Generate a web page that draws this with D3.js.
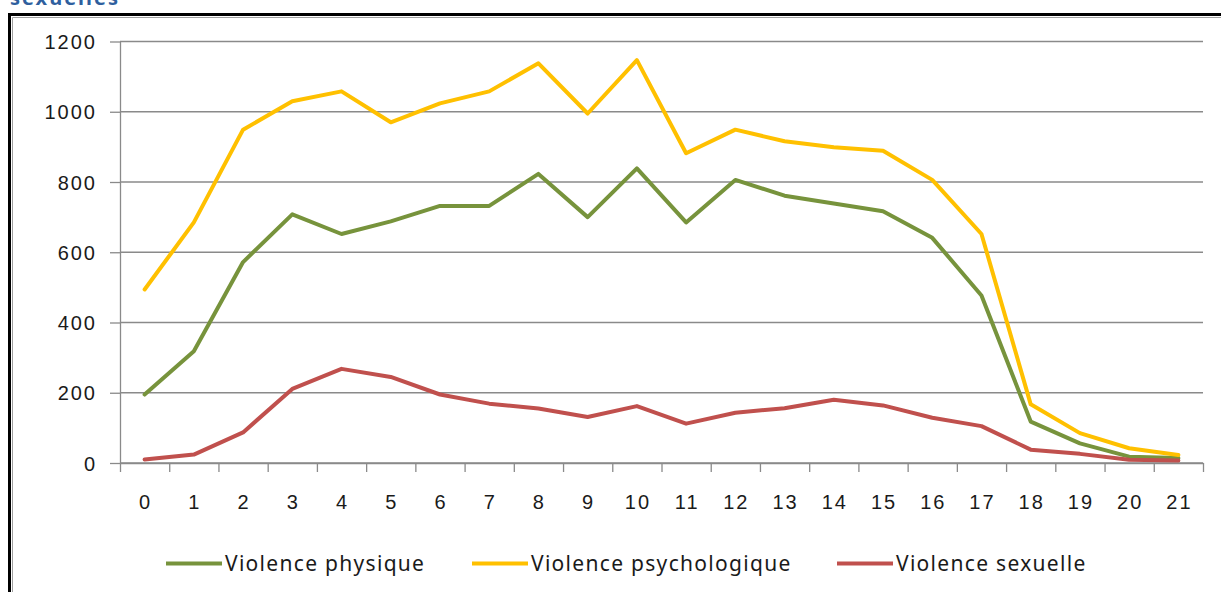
<!DOCTYPE html>
<html lang="fr">

<head>
    <meta charset="UTF-8">
    <title>Violences</title>
    <style>
        body {
            margin: 0;
            background-color: white;
        }

        svg {
            display: block;
            font-family: 'Noto Sans', 'Open Sans', sans-serif;
        }

        .axis path,
        .axis line {
            stroke: #8a8a8a;
            stroke-width: 1.3;
        }

        .axis text {
            fill: #1a1a1a;
            font-size: 20px;
            letter-spacing: 2px;
        }
    </style>
</head>

<body>
    <script src="https://d3js.org/d3.v7.min.js"></script>
    <script>
        {
            // categories 0..21
            let categories = ['0', '1', '2', '3', '4', '5', '6', '7', '8', '9', '10',
                '11', '12', '13', '14', '15', '16', '17', '18', '19', '20', '21'];

            let physique = [195, 318, 572, 708, 652, 688, 732, 732, 823, 700, 839,
                685, 806, 761, 739, 717, 641, 477, 118, 56, 18, 14];
            let psychologique = [494, 685, 949, 1030, 1058, 970, 1024, 1058, 1138, 995, 1147,
                882, 949, 916, 899, 889, 806, 652, 167, 85, 42, 23];
            let sexuelle = [10, 24, 87, 211, 268, 245, 195, 169, 155, 131, 162,
                112, 143, 156, 180, 164, 129, 105, 38, 26, 9, 7];

            let yTicks = [0, 200, 400, 600, 800, 1000, 1200];

            let seriesNames = ['Violence physique', 'Violence psychologique', 'Violence sexuelle'];
            let seriesColors = ['#77933c', '#ffc000', '#c0504d'];
            let seriesValues = [physique, psychologique, sexuelle];

            let W = 1221, H = 592;
            let left = 120, right = 1203, top = 41.5, bottom = 463;

            let svg = d3.select('body')
                .append('svg')
                .attr('width', W)
                .attr('height', H);

            // heading cut off at the top of the page
            svg.append('text')
                .attr('x', 10)
                .attr('y', 5)
                .attr('fill', '#2f5f9e')
                .attr('font-weight', 'bold')
                .attr('font-size', '20px')
                .attr('letter-spacing', '2px')
                .text('sexuelles');

            // chart frame
            svg.append('path')
                .attr('d', `M9.5,${H} V14.5 H${W}`)
                .attr('fill', 'none')
                .attr('stroke', '#000')
                .attr('stroke-width', 3);
            svg.append('path')
                .attr('d', `M12.5,${H} V17.5 H${W}`)
                .attr('fill', 'none')
                .attr('stroke', '#a0a0a0')
                .attr('stroke-width', 1);

            let x = d3.scaleBand().domain(categories).range([left, right]);
            let xEdge = d3.scaleLinear().domain([0, categories.length]).range([left, right]);
            let y = d3.scaleLinear().domain([0, 1200]).range([bottom, top]);

            // gridlines
            svg.append('g')
                .selectAll('line')
                .data(yTicks)
                .enter()
                .append('line')
                .attr('x1', left)
                .attr('x2', right)
                .attr('y1', d => y(d))
                .attr('y2', d => y(d))
                .attr('stroke', '#8a8a8a')
                .attr('stroke-width', 1.3);

            // y axis
            svg.append('g')
                .attr('class', 'axis')
                .attr('transform', `translate(${left},0)`)
                .call(d3.axisLeft(y).tickValues(yTicks).tickFormat(d3.format('d'))
                    .tickSize(10).tickPadding(13).tickSizeOuter(0))
                .selectAll('text')
                .attr('dy', '0.35em');

            // x axis: tick marks between categories
            svg.append('g')
                .attr('class', 'axis')
                .attr('transform', `translate(0,${bottom})`)
                .call(d3.axisBottom(xEdge).tickValues(d3.range(categories.length + 1))
                    .tickSize(9).tickFormat('').tickSizeOuter(0));

            // x labels
            let xl = svg.append('g')
                .attr('class', 'axis')
                .attr('transform', `translate(1,${bottom})`)
                .call(d3.axisBottom(x).tickSize(0).tickPadding(31.5));
            xl.select('.domain').remove();

            // lines
            let line = d3.line()
                .x((d, i) => x(categories[i]) + x.bandwidth() / 2)
                .y(d => y(d));

            svg.append('g')
                .selectAll('path')
                .data(seriesValues)
                .enter()
                .append('path')
                .attr('d', line)
                .attr('fill', 'none')
                .attr('stroke', (d, i) => seriesColors[i])
                .attr('stroke-width', 4)
                .attr('stroke-linejoin', 'round')
                .attr('stroke-linecap', 'round');

            // legend
            let legendX = [166, 472, 837];
            let legend = svg.append('g')
                .selectAll('g')
                .data(seriesNames)
                .enter()
                .append('g')
                .attr('transform', (d, i) => `translate(${legendX[i]},563.5)`);

            legend.append('line')
                .attr('x1', 0)
                .attr('x2', 56)
                .attr('stroke', (d, i) => seriesColors[i])
                .attr('stroke-width', 4);

            legend.append('text')
                .attr('x', 59)
                .attr('y', 7.5)
                .attr('fill', '#1a1a1a')
                .attr('font-size', '21px')
                .attr('letter-spacing', '1.3px')
                .text(d => d);
        }
    </script>
</body>

</html>
